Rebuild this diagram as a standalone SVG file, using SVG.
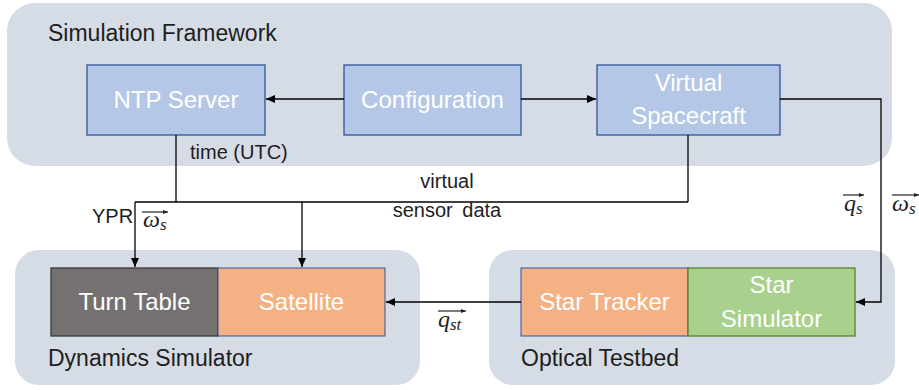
<svg xmlns="http://www.w3.org/2000/svg" width="919" height="390" viewBox="0 0 919 390">
<defs>
<marker id="ah" markerUnits="userSpaceOnUse" markerWidth="9" markerHeight="8" refX="9" refY="4" orient="auto">
<path d="M0,0 L9,4 L0,8 z" fill="#000"/>
</marker>
<marker id="va" markerUnits="userSpaceOnUse" markerWidth="5" markerHeight="4" refX="5" refY="2" orient="auto">
<path d="M0,0 L5,2 L0,4 z" fill="#222"/>
</marker>
<style>
.cont{fill:#D6DCE5}
.lbl{font-family:"Liberation Sans",Arial,sans-serif;font-size:23px;fill:#1e1e1e}
.box{font-family:"Liberation Sans",Arial,sans-serif;font-size:24px;fill:#fff;text-anchor:middle}
.sm{font-family:"Liberation Sans",Arial,sans-serif;font-size:20px;fill:#1e1e1e}
.math{font-family:"Liberation Serif","Times New Roman",serif;font-style:italic;fill:#1e1e1e}
.blue{fill:#B4C7E7;stroke:#2F5597;stroke-width:1.3}
.conn{fill:none;stroke:#000;stroke-width:1.3}
.vec{stroke:#222;stroke-width:1.2;fill:none}
</style>
</defs>
<g id="simulation-framework">
<rect class="cont" x="7" y="3" width="885" height="163" rx="28"/>
<text class="lbl" x="48" y="41">Simulation Framework</text>
</g>
<g id="dynamics-simulator">
<rect class="cont" x="15" y="250" width="405" height="135" rx="24"/>
<text class="lbl" x="48" y="366">Dynamics Simulator</text>
</g>
<g id="optical-testbed">
<rect class="cont" x="489" y="250" width="406" height="135" rx="24"/>
<text class="lbl" x="521" y="366">Optical Testbed</text>
</g>
<g id="ntp-server">
<rect class="blue" x="87" y="65" width="178" height="70"/>
<text class="box" x="176" y="108">NTP Server</text>
</g>
<g id="configuration">
<rect class="blue" x="344" y="65" width="177" height="70"/>
<text class="box" x="432.5" y="108">Configuration</text>
</g>
<g id="virtual-spacecraft">
<rect class="blue" x="597" y="65" width="183" height="70"/>
<text class="box" x="688.5" y="91">Virtual</text>
<text class="box" x="688.5" y="124">Spacecraft</text>
</g>
<g id="turn-table">
<rect x="51" y="268" width="167" height="68" fill="#767171" stroke="#3a3a3a" stroke-width="1.3"/>
<text class="box" x="134.5" y="310">Turn Table</text>
</g>
<g id="satellite">
<rect x="218" y="268" width="167" height="68" fill="#F4B183" stroke="#2F5597" stroke-width="1"/>
<text class="box" x="301.5" y="310">Satellite</text>
</g>
<g id="star-tracker">
<rect x="521" y="268" width="167" height="68" fill="#F4B183" stroke="#2F5597" stroke-width="1"/>
<text class="box" x="604.5" y="310">Star Tracker</text>
</g>
<g id="star-simulator">
<rect x="688" y="268" width="167" height="68" fill="#A9D18E" stroke="#538135" stroke-width="1.3"/>
<text class="box" x="771.5" y="293">Star</text>
<text class="box" x="771.5" y="327">Simulator</text>
</g>
<g id="connectors">
<path class="conn" d="M344 99 H266" marker-end="url(#ah)"/>
<path class="conn" d="M521 99 H596" marker-end="url(#ah)"/>
<path class="conn" d="M176 135 V202"/>
<path class="conn" d="M135 202 H688"/>
<path class="conn" d="M688 135 V202"/>
<path class="conn" d="M135 202 V267" marker-end="url(#ah)"/>
<path class="conn" d="M302 202 V267" marker-end="url(#ah)"/>
<path class="conn" d="M521 302 H386" marker-end="url(#ah)"/>
<path class="conn" d="M780 99 H881 V302 H856" stroke="#333" marker-end="url(#ah)"/>
</g>
<g id="labels">
<text class="sm" x="190" y="159">time (UTC)</text>
<text class="sm" x="447" y="188" text-anchor="middle">virtual</text>
<text class="sm" x="447" y="217" text-anchor="middle" word-spacing="4">sensor data</text>
<text class="sm" x="92" y="223">YPR</text>
<line class="vec" x1="142" y1="212" x2="168" y2="212" marker-end="url(#va)"/>
<text class="math" x="143" y="227" font-size="24">ω<tspan font-size="17" dy="3">s</tspan></text>
<line class="vec" x1="843" y1="195" x2="864" y2="195" marker-end="url(#va)"/>
<text class="math" x="844" y="211" font-size="24">q<tspan font-size="17" dy="3">s</tspan></text>
<line class="vec" x1="892" y1="195" x2="919" y2="195" marker-end="url(#va)"/>
<text class="math" x="892" y="211" font-size="24">ω<tspan font-size="17" dy="3">s</tspan></text>
<line class="vec" x1="438" y1="311" x2="466" y2="311" marker-end="url(#va)"/>
<text class="math" x="438" y="327" font-size="24">q<tspan font-size="17" dy="3">st</tspan></text>
</g>
</svg>
